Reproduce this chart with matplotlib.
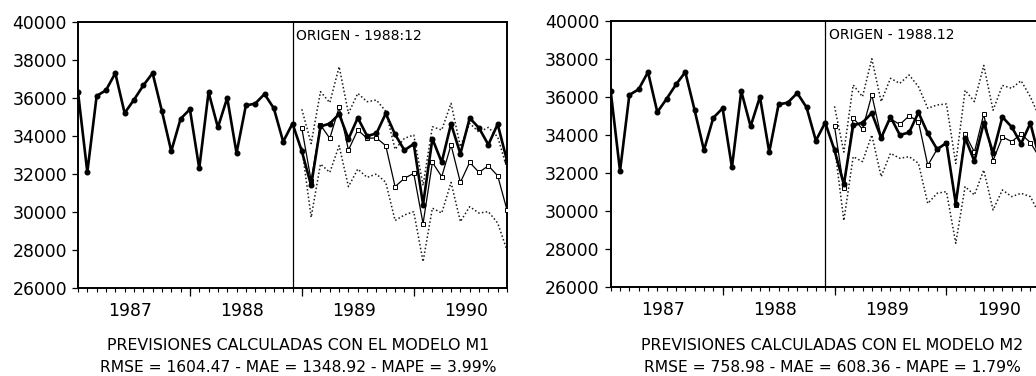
import numpy as np
import pandas as pd
import matplotlib
matplotlib.use("Agg")
import matplotlib.pyplot as plt

plt.rcParams['font.family'] = ['DejaVu Sans']

# ---------------- data ----------------
start_month = "1987-01"
origin_month = "1988-12"
forecast_start = "1989-01"
years = [1987, 1988, 1989, 1990]

actual = [36300, 32100, 36100, 36400, 37300, 35200, 35900, 36650, 37300, 35300,
          33200, 34900, 35400, 32300, 36300, 34450, 36000, 33100, 35600, 35700,
          36200, 35450, 33700, 34650, 33200, 31400, 34500, 34650, 35150, 33850,
          34950, 34000, 34130, 35180, 34080, 33250, 33580, 30400, 33850, 32620,
          34640, 33060, 34940, 34420, 33540, 34620, 32700]

m1_forecast = [34400, 31650, 34575, 33875, 35500, 33262, 34312, 33875, 33900, 33487,
               31337, 31775, 32037, 29400, 32612, 31862, 33525, 31562, 32612, 32087,
               32437, 31912, 30112]
m1_upper = [35400, 33600, 36325, 35750, 37637, 35187, 36237, 35800, 35887, 35300,
            33300, 33875, 34050, 31400, 34487, 34312, 35713, 33437, 34662, 34200,
            34450, 33950, 32300]
m1_lower = [33400, 29725, 32525, 32087, 33487, 31337, 32262, 31825, 32000, 31562,
            29560, 29850, 30025, 27400, 30210, 29950, 31562, 29500, 30287, 29950,
            30025, 29430, 28000]

m2_forecast = [34450, 31200, 34900, 34300, 36100, 33900, 34850, 34550, 35000, 34700,
               32400, 33250, 33600, 30300, 34050, 33100, 35100, 32650, 33900, 33650,
               34050, 33600, 32800]
m2_upper = [35500, 33100, 36625, 36010, 38000, 35750, 36975, 36710, 37150, 36535,
            35400, 35575, 35625, 32500, 36350, 35750, 37650, 35300, 36600, 36450,
            36850, 36000, 34900]
m2_lower = [33400, 29500, 32860, 32600, 34000, 31810, 33037, 32775, 32860, 32512,
            30400, 30937, 31025, 28312, 31285, 30850, 32162, 30062, 31112, 30762,
            30937, 30762, 29800]

origin_labels = ["ORIGEN - 1988:12", "ORIGEN - 1988.12"]
title1 = ["PREVISIONES CALCULADAS CON EL MODELO M1", "PREVISIONES CALCULADAS CON EL MODELO M2"]
title2 = ["RMSE = 1604.47 - MAE = 1348.92 - MAPE = 3.99%",
          "RMSE = 758.98 - MAE = 608.36 - MAPE = 1.79%"]

# ---------------- derived positions ----------------
months = pd.period_range(start_month, periods=len(actual), freq="M")
x_act = np.arange(len(actual))
x_origin = months.get_loc(pd.Period(origin_month, freq="M"))
i0 = months.get_loc(pd.Period(forecast_start, freq="M"))
x_fc = np.arange(i0, i0 + len(m1_forecast))
year_starts = [months.get_loc(pd.Period(f"{y}-01", freq="M")) for y in years]
year_label_pos = [s + 5.6 for s in year_starts]

W, H = 1036, 376
fig = plt.figure(figsize=(W / 100, H / 100), dpi=100)

axes_px = [(78, 21.7, 429, 266.6), (610.7, 20.7, 429, 266.6)]
title_cx = [298, 832]

models = [(m1_forecast, m1_upper, m1_lower), (m2_forecast, m2_upper, m2_lower)]

for p, (ax_px, (fc, up, lo)) in enumerate(zip(axes_px, models)):
    x0, y0, w, h = ax_px
    ax = fig.add_axes([x0 / W, (H - y0 - h) / H, w / W, h / H])
    ax.set_xlim(0, len(actual) - 1)
    ax.set_ylim(26000, 40000)

    ax.plot(x_fc, up, color="#1a1a1a", lw=1.1, ls=(0, (1, 1.5)), zorder=2)
    ax.plot(x_fc, lo, color="#1a1a1a", lw=1.1, ls=(0, (1, 1.5)), zorder=2)
    ax.plot(x_fc, fc, color="black", lw=0.9, marker="s", ms=3.0,
            mfc="white", mec="black", mew=0.7, zorder=3)
    ax.plot(x_act, actual, color="black", lw=1.9, marker="o", ms=3.3,
            mfc="black", mec="black", zorder=4)

    ax.axvline(x_origin, color="black", lw=0.9, zorder=1)
    ax.annotate(origin_labels[p], xy=(x_origin, 1), xycoords=("data", "axes fraction"),
                xytext=(2.5, -10.5), textcoords="offset points",
                ha="left", va="center", fontsize=10, color="black")

    ax.set_yticks(np.arange(26000, 40001, 2000))
    ax.set_xticks(year_label_pos)
    ax.set_xticklabels([str(y) for y in years])
    ax.set_xticks(x_act, minor=True)
    ax.tick_params(axis="x", which="major", length=0, pad=10, labelsize=12.4)
    ax.tick_params(axis="x", which="minor", length=3, width=0.8, direction="out")
    ax.tick_params(axis="y", which="major", length=4, width=0.9, pad=4, labelsize=12.4,
                   direction="out")
    sec = ax.secondary_xaxis("bottom")
    sec.set_xticks(year_starts[1:])
    sec.tick_params(length=6, width=0.9, labelbottom=False, direction="out")
    sec.spines["bottom"].set_visible(False)

    for s in ax.spines.values():
        s.set_linewidth(1.4)
        s.set_color("black")

    fig.text(title_cx[p] / W, 1 - 346 / H, title1[p], ha="center", va="center",
             fontsize=11.4)
    fig.text(title_cx[p] / W, 1 - 367.5 / H, title2[p], ha="center", va="center",
             fontsize=11.2)

fig.savefig("out.png", dpi=100, facecolor="white")
